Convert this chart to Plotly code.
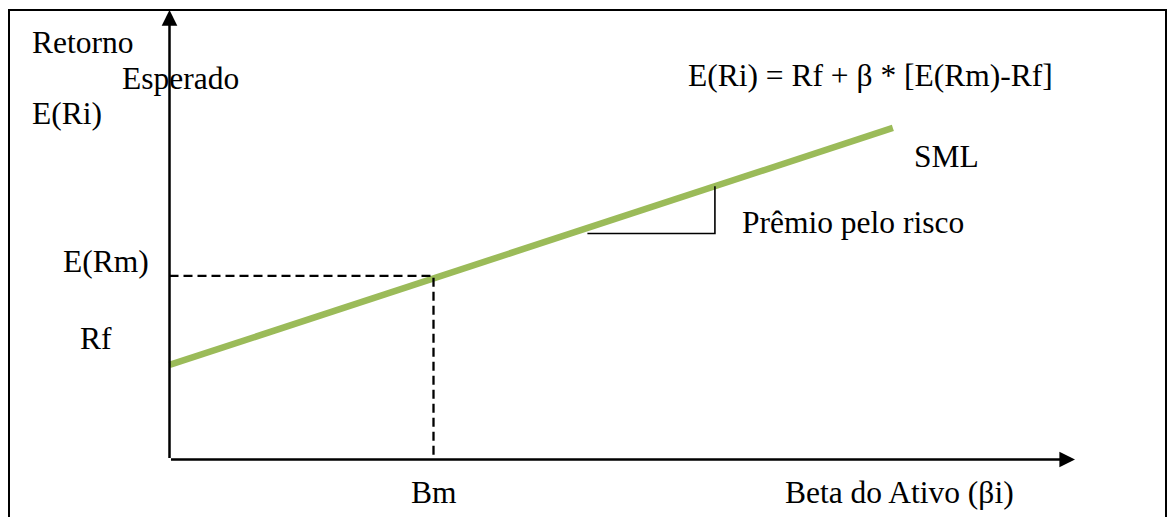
import plotly.graph_objects as go

# ---- data (conceptual units: beta on x, expected return on y) ----
rf = 4.3            # risk-free rate level
erm = 8.35          # expected market return level
bm = 1.0            # market beta
sml_beta = [0.0, 2.74]
sml_return = [4.3, 15.07]
premium_beta = [1.583, 2.066]      # horizontal leg of the risk-premium triangle
premium_return = [10.27, 12.42]    # bottom level, top level (on the SML)
x_axis_end = 3.43
y_axis_end = 20.43

labels_left = ["Retorno", "Esperado", "E(Ri)"]
formula = "E(Ri) = Rf + β * [E(Rm)-Rf]"

W, H = 1168, 517
PX_PER_BETA = 264.0
PX_PER_RET = 22.0
OX, OY = 169.5, 459.5   # pixel origin inside figure


def px(xp):
    return xp / W


def py(yp):
    return 1 - yp / H


FONT = dict(family="Liberation Serif, Times New Roman, serif", size=31.5, color="black")

fig = go.Figure()

# SML
fig.add_trace(go.Scatter(x=sml_beta, y=sml_return, mode="lines",
                         line=dict(color="#9BBB59", width=6.5), hoverinfo="skip",
                         showlegend=False))

# dashed guides to market point
fig.add_trace(go.Scatter(x=[0, bm, bm], y=[erm, erm, 0], mode="lines",
                         line=dict(color="black", width=2.3, dash="9px,5px"),
                         hoverinfo="skip", showlegend=False))

# risk premium triangle
fig.add_trace(go.Scatter(x=[premium_beta[0], premium_beta[1], premium_beta[1]],
                         y=[premium_return[0], premium_return[0], premium_return[1]],
                         mode="lines", line=dict(color="black", width=1.6),
                         hoverinfo="skip", showlegend=False))

annotations = []
# axes with arrows
for tip in [(x_axis_end, 0), (0, y_axis_end)]:
    annotations.append(dict(x=tip[0], y=tip[1], ax=0, ay=0, xref="x", yref="y",
                            axref="x", ayref="y", text="", showarrow=True, arrowhead=2,
                            arrowsize=1.25, arrowwidth=2.5, arrowcolor="black", standoff=0))


def txt(t, x, y):
    annotations.append(dict(text=t, x=px(x), y=py(y), xref="paper", yref="paper",
                            xanchor="left", yanchor="middle", showarrow=False, font=FONT))


txt(labels_left[0], 30, 42)
txt(labels_left[1], 120, 78)
txt(labels_left[2], 30, 113)
txt("E(Rm)", 61, 261)
txt("Rf", 78, 338)
txt("Bm", 409, 492)
txt("Beta do Ativo (βi)", 783, 492)
txt(formula, 686, 76)
txt("SML", 912, 156)
txt("Prêmio pelo risco", 740, 222)

fig.update_layout(
    width=W, height=H, autosize=False,
    margin=dict(l=0, r=0, t=0, b=0),
    paper_bgcolor="white", plot_bgcolor="white",
    xaxis=dict(range=[-OX / PX_PER_BETA, (W - OX) / PX_PER_BETA], visible=False, fixedrange=True),
    yaxis=dict(range=[-(H - OY) / PX_PER_RET, OY / PX_PER_RET], visible=False, fixedrange=True),
    annotations=annotations,
    shapes=[dict(type="rect", xref="paper", yref="paper",
                 x0=px(9), x1=px(1166), y0=-0.05, y1=py(10),
                 line=dict(color="black", width=2), layer="above")],
    showlegend=False,
)

fig.write_html("out.html", config={"displayModeBar": False},
               post_script="document.body.style.margin='0';document.body.style.overflow='hidden';")
